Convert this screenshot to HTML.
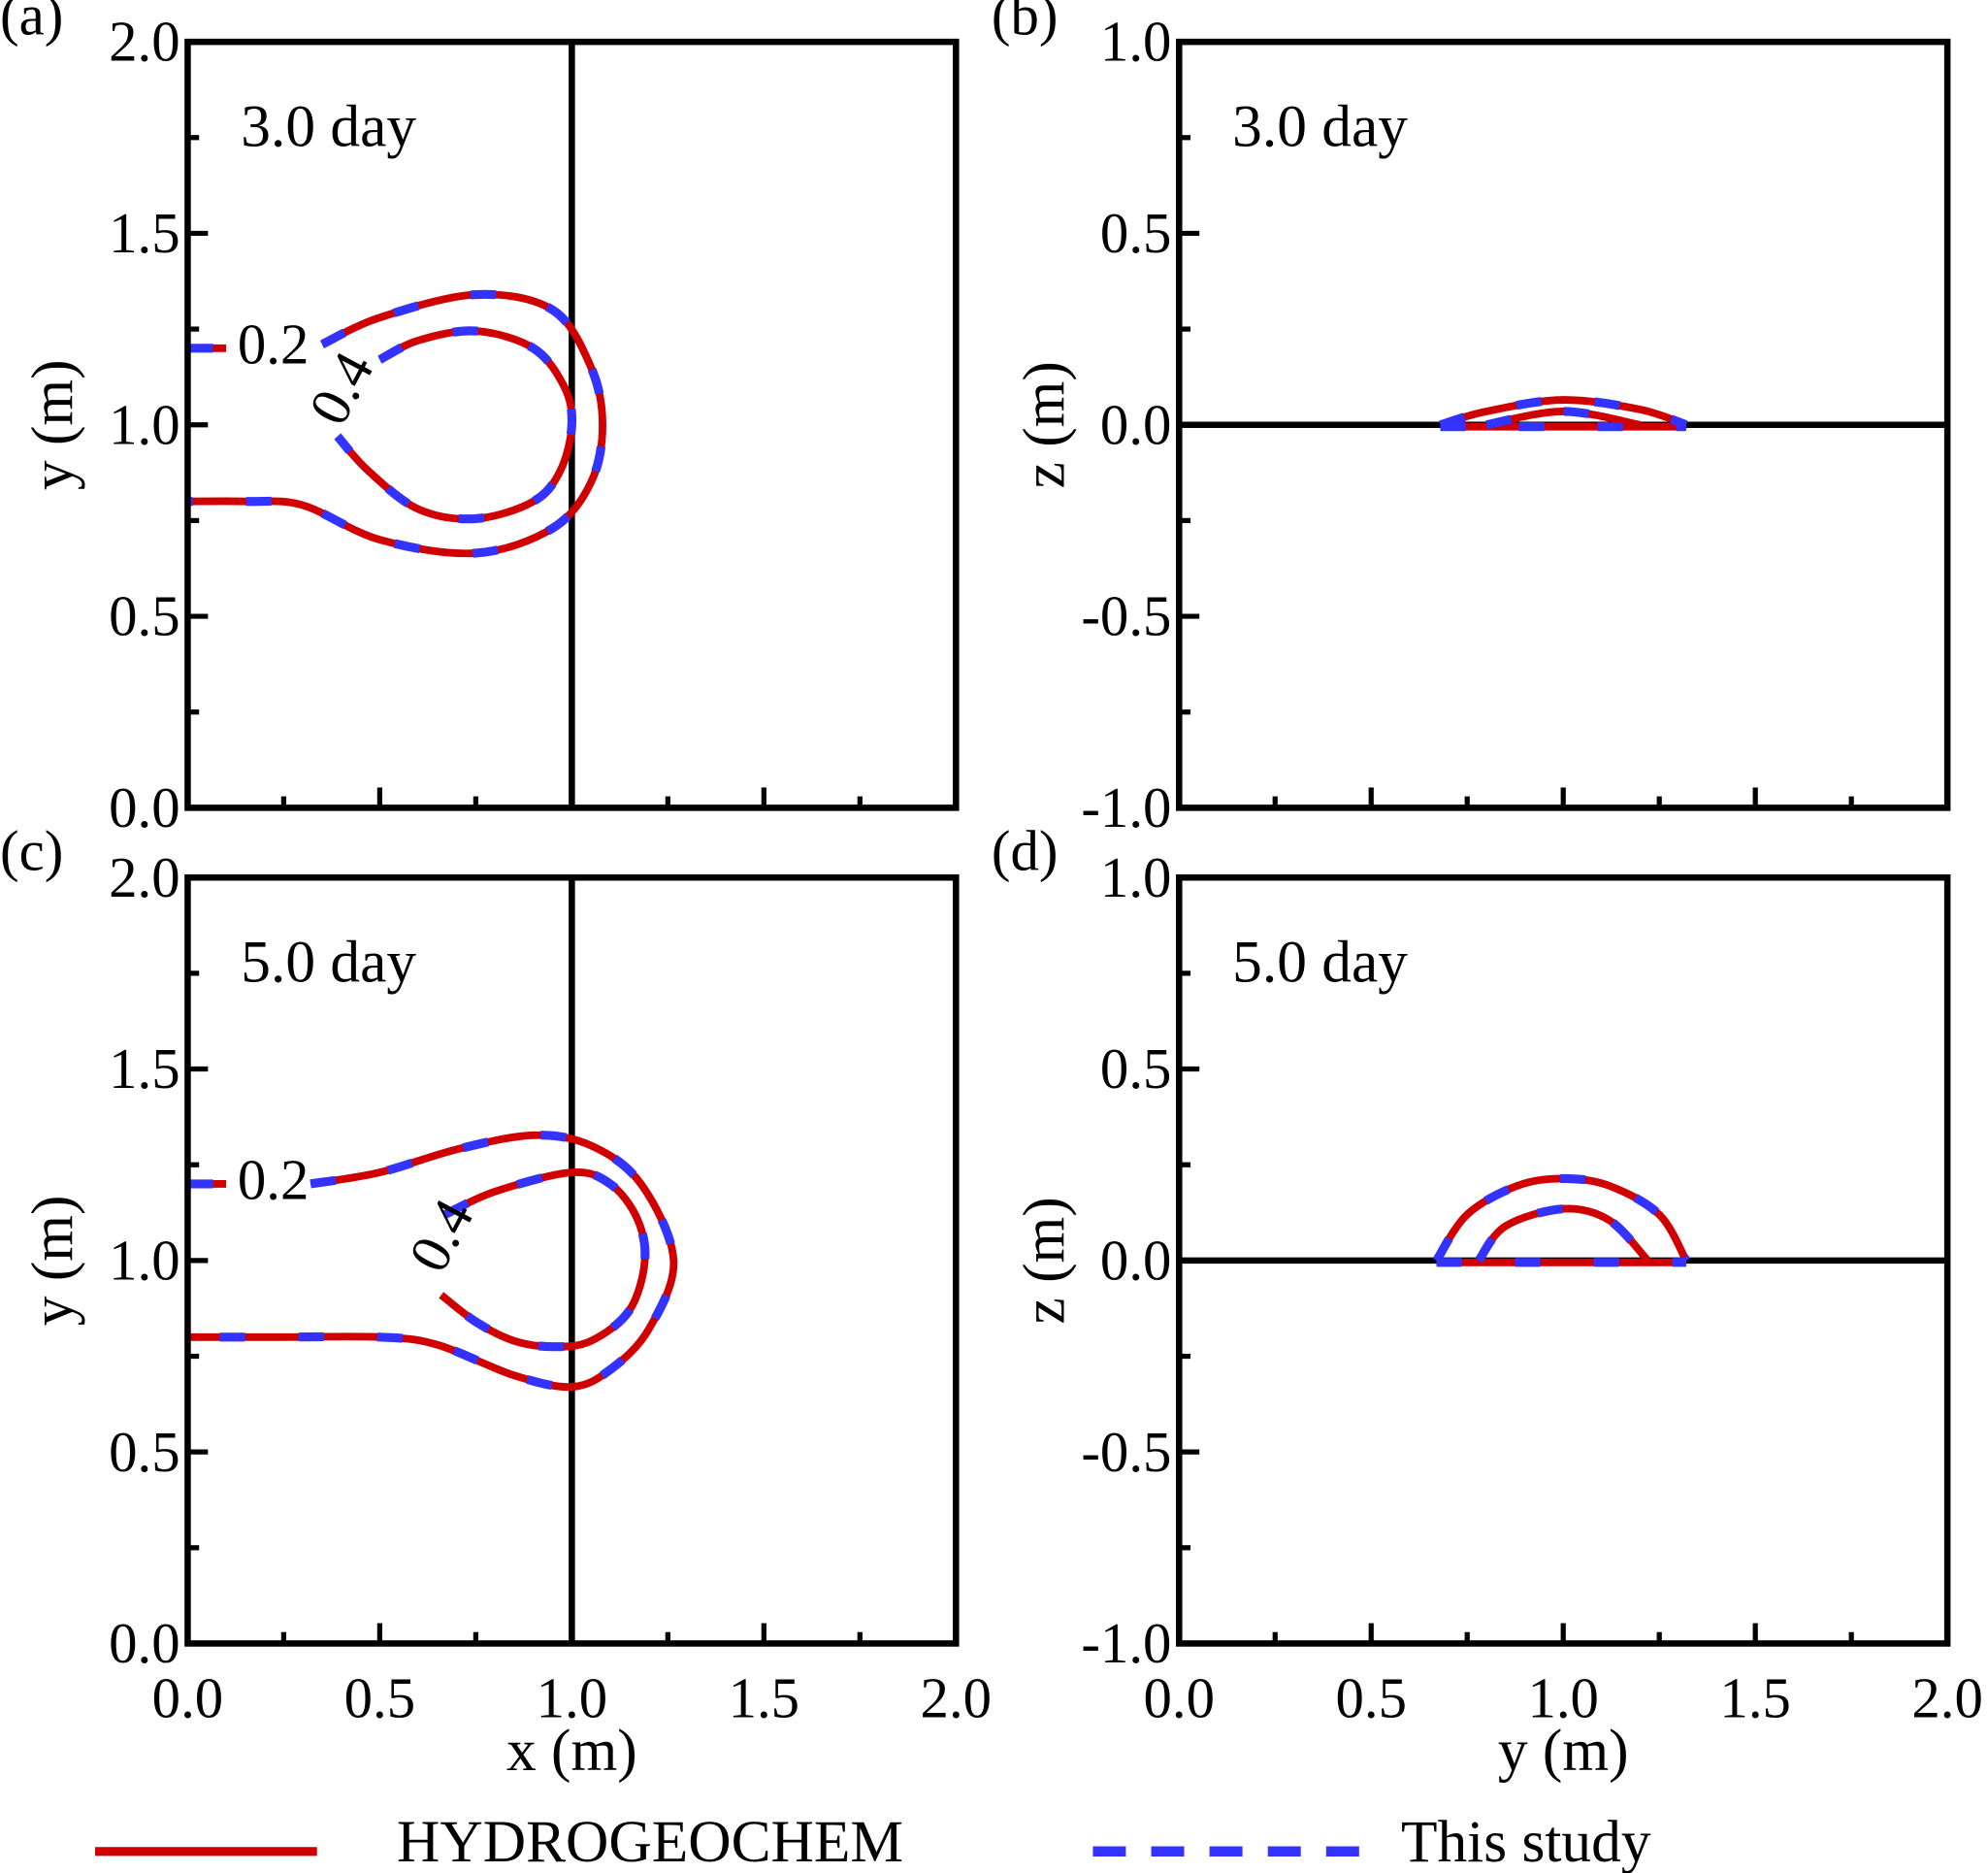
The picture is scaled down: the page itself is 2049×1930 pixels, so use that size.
<!DOCTYPE html>
<html><head><meta charset="utf-8"><style>
html,body{margin:0;padding:0;background:#fff}
svg{display:block}
text{font-family:"Liberation Serif",serif;fill:#000}
</style></head><body>
<svg id="fig" width="2049" height="1930" viewBox="0 0 1568 1477" xmlns="http://www.w3.org/2000/svg">
<g id="root"></g>
<g>
<line x1="75" y1="1460" x2="250" y2="1460" stroke="#d00000" stroke-width="7"/>
<text x="313" y="1468" font-size="47">HYDROGEOCHEM</text>
<line x1="862" y1="1460" x2="1072" y2="1460" stroke="#3333ff" stroke-width="8" stroke-dasharray="26,20"/>
<text x="1105" y="1468" font-size="47">This study</text>
</g>
</svg>
<script>
// Contour data (data coords)
const aOuterL = [[0,1.2],[0.1,1.2]];
const aOuter = [[0.35,1.21],[0.5,1.28],[0.75,1.34],[0.95,1.3],[1.05,1.15],[1.08,1.0],[1.05,0.85],[0.95,0.73],[0.75,0.665],[0.5,0.7],[0.3,0.79],[0.15,0.8],[0,0.8]];
const aInner = [[0.5,1.17],[0.6,1.22],[0.75,1.245],[0.9,1.2],[0.98,1.1],[1.0,1.0],[0.97,0.88],[0.9,0.8],[0.75,0.755],[0.6,0.78],[0.47,0.88],[0.39,0.97]];
const cOuterL = [[0,1.2],[0.1,1.2]];
const cOuter = [[0.32,1.2],[0.5,1.23],[0.7,1.29],[0.9,1.327],[1.05,1.3],[1.18,1.2],[1.265,1.0],[1.2,0.82],[1.1,0.715],[1.0,0.67],[0.85,0.7],[0.65,0.78],[0.5,0.8],[0.25,0.8],[0,0.8]];
const cInner = [[0.67,1.12],[0.8,1.18],[1.0,1.23],[1.1,1.2],[1.17,1.11],[1.19,1.0],[1.15,0.87],[1.05,0.79],[0.95,0.775],[0.85,0.79],[0.75,0.84],[0.66,0.91]];
const bOuter = [[0.68,0],[0.8,0.035],[1.0,0.065],[1.2,0.04],[1.32,0]];
const bInner = [[0.8,0],[1.0,0.035],[1.2,0]];
const dOuter = [[0.67,0],[0.75,0.12],[0.88,0.195],[1.0,0.214],[1.12,0.195],[1.25,0.12],[1.32,0]];
const dInner = [[0.78,0],[0.85,0.09],[1.0,0.135],[1.12,0.105],[1.22,0]];
const xTicks = ["0.0","0.5","1.0","1.5","2.0"];
const yTicksXY = ["0.0","0.5","1.0","1.5","2.0"];
const yTicksZ = ["-1.0","-0.5","0.0","0.5","1.0"];

const NS="http://www.w3.org/2000/svg";
const root=document.getElementById('root');
function mk(tag,attrs,parent){const e=document.createElementNS(NS,tag);for(const k in attrs)e.setAttribute(k,attrs[k]);(parent||root).appendChild(e);return e;}
function path(pts,sx,sy){
  const p=pts.map(q=>[sx(q[0]),sy(q[1])]);
  let d=`M${p[0][0]},${p[0][1]}`;
  for(let i=0;i<p.length-1;i++){
    const p0=p[Math.max(0,i-1)],p1=p[i],p2=p[i+1],p3=p[Math.min(p.length-1,i+2)];
    const c1=[p1[0]+(p2[0]-p0[0])/6,p1[1]+(p2[1]-p0[1])/6];
    const c2=[p2[0]-(p3[0]-p1[0])/6,p2[1]-(p3[1]-p1[1])/6];
    d+=` C${c1[0]},${c1[1]} ${c2[0]},${c2[1]} ${p2[0]},${p2[1]}`;
  }
  return d;
}
function panel(name,x0,y0,ymin,ymax,yTicks,title,day,curves,labels,divider,showX,xTitle){
  const W=606,H=604;
  const g=mk('g',{});
  
  
  const sx=v=>x0+v/2*W;
  const sy=v=>y0+H-(v-ymin)/(ymax-ymin)*H;
  if(divider==='v'){const l=mk('line',{x1:sx(1),y1:y0,x2:sx(1),y2:y0+H,stroke:'#000','stroke-width':5},g);}
  else {const l=mk('line',{x1:x0,y1:sy(0),x2:x0+W,y2:sy(0),stroke:'#000','stroke-width':5},g);}
  curves.forEach((c,i)=>{
    const r=mk('path',{d:path(c,sx,sy),fill:'none',stroke:'#d00000','stroke-width':6},g);
    
    
  });
  curves.forEach((c,i)=>{
    const b=mk('path',{d:path(c,sx,sy),fill:'none',stroke:'#3333ff','stroke-width':7,'stroke-dasharray':'20,42'},g);
    
    
  });
  labels.forEach(L=>{
    const t=mk('text',{x:sx(L[0]),y:sy(L[1]),'font-size':45,transform:L[3]?`rotate(${L[3]} ${sx(L[0])} ${sy(L[1])})`:''},g);
    t.textContent=L[2];
    
    
  });
  const f=mk('rect',{x:x0,y:y0,width:W,height:H,fill:'none',stroke:'#000','stroke-width':5},g);
  
  
  for(let i=0;i<=8;i++){
    const major=i%2===0, len=major?16:9;
    const xv=i*0.25, px=sx(xv);
    const tx=mk('line',{x1:px,y1:y0+H,x2:px,y2:y0+H-len,stroke:'#000','stroke-width':4},g);
    
    
    const py=y0+H-i/8*H;
    const ty=mk('line',{x1:x0,y1:py,x2:x0+len,y2:py,stroke:'#000','stroke-width':4},g);
    
    
    if(major){
      const yl=mk('text',{x:x0-6,y:py+15,'font-size':45,'text-anchor':'end'},g);
      yl.textContent=yTicks[i/2];
      
      
      if(showX){
        const xl=mk('text',{x:px,y:y0+H+58,'font-size':45,'text-anchor':'middle'},g);
        xl.textContent=xTicks[i/2];
        
        
      }
    }
  }
  const yt=mk('text',{x:x0-106,y:y0+H/2,'font-size':47,'text-anchor':'middle',transform:`rotate(-90 ${x0-106} ${y0+H/2})`,dy:15},g);
  yt.textContent=title;
  
  
  if(showX){
    const xt=mk('text',{x:x0+W/2,y:y0+H+100,'font-size':47,'text-anchor':'middle'},g);
    xt.textContent=xTitle;
    
    
  }
  const dt=mk('text',{x:x0+42,y:y0+82,'font-size':47},g);
  dt.textContent=day;
  
  
  const pl=mk('text',{x:x0-148,y:y0-6,'font-size':45},g);
  pl.textContent='('+name+')';
  
  
}
panel('a',148,33,0,2,yTicksXY,'y (m)','3.0 day',[aOuterL,aOuter,aInner],[[0.13,1.16,'0.2'],[0.4,0.99,'0.4',-62]],'v',false,'');
panel('b',930,33,-1,1,yTicksZ,'z (m)','3.0 day',[bOuter,bInner,[[0.68,-0.005],[1.32,-0.005]]],[],'h',false,'');
panel('c',148,692,0,2,yTicksXY,'y (m)','5.0 day',[cOuterL,cOuter,cInner],[[0.13,1.16,'0.2'],[0.66,0.96,'0.4',-62]],'v',true,'x (m)');
panel('d',930,692,-1,1,yTicksZ,'z (m)','5.0 day',[dOuter,dInner,[[0.67,-0.005],[1.32,-0.005]]],[],'h',true,'y (m)');
</script>
</body></html>
